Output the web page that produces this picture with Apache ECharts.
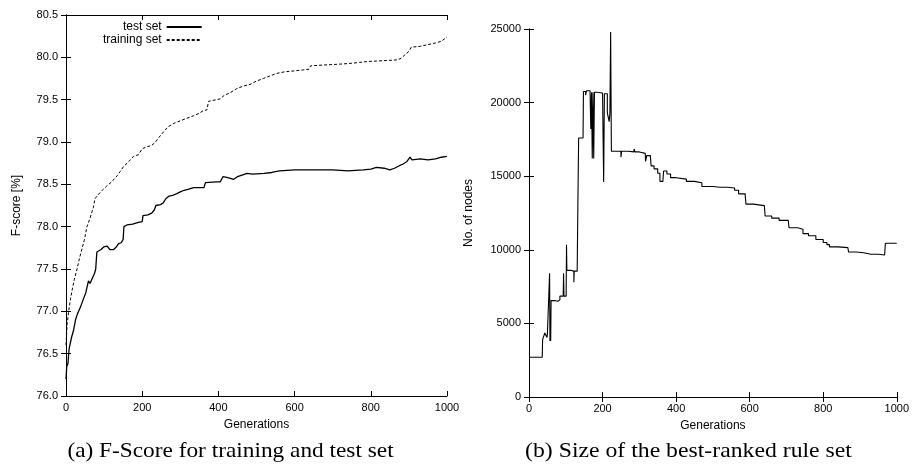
<!DOCTYPE html>
<html>
<head>
<meta charset="utf-8">
<script src="https://cdn.jsdelivr.net/npm/echarts@6/dist/echarts.min.js"></script>
<style>
html,body{margin:0;padding:0;background:#fff;}
#c{width:912px;height:470px;}
</style>
</head>
<body>
<div id="c"></div>
<script>
// ---------- data ----------
const xTicks = [0, 200, 400, 600, 800, 1000];

const testGen = [0,2,5,8,11,15,20,25,30,38,46,52,56,59,63,67,70,75,78,81,85,92,99,104,108,115,125,132,138,145,150,152,160,175,190,200,202,215,225,232,236,248,255,262,270,280,291,300,310,320,335,362,366,395,405,412,425,440,450,462,475,490,520,540,560,600,650,700,740,780,800,815,835,850,862,875,885,895,903,908,930,950,970,985,1000];
const testVal = [76.2,76.35,76.38,76.55,76.62,76.7,76.78,76.9,76.97,77.05,77.15,77.22,77.3,77.36,77.33,77.34,77.4,77.45,77.5,77.7,77.72,77.73,77.76,77.74,77.77,77.73,77.73,77.76,77.8,77.81,77.85,78.0,78.02,78.03,78.05,78.06,78.13,78.14,78.16,78.2,78.25,78.26,78.28,78.33,78.36,78.37,78.39,78.41,78.43,78.44,78.46,78.46,78.52,78.53,78.53,78.59,78.58,78.56,78.59,78.61,78.63,78.62,78.63,78.64,78.66,78.67,78.67,78.67,78.66,78.67,78.68,78.7,78.69,78.67,78.69,78.72,78.74,78.77,78.82,78.79,78.8,78.79,78.8,78.82,78.83];

const trainGen = [0,3,7,12,16,22,29,35,42,48,55,63,72,76,83,95,107,120,134,142,151,165,177,190,200,210,225,235,245,256,268,283,300,317,335,350,360,370,374,395,405,415,430,448,465,483,500,518,535,553,575,600,620,638,642,680,720,750,770,790,830,870,880,892,900,906,930,950,970,985,1000];
const trainVal = [76.6,76.85,77.0,77.15,77.25,77.38,77.5,77.62,77.74,77.84,78.0,78.1,78.23,78.33,78.37,78.43,78.48,78.53,78.6,78.65,78.71,78.77,78.83,78.85,78.92,78.94,78.96,79.0,79.06,79.12,79.18,79.22,79.25,79.28,79.31,79.34,79.37,79.38,79.48,79.5,79.51,79.55,79.58,79.63,79.66,79.68,79.72,79.75,79.78,79.81,79.83,79.84,79.85,79.86,79.9,79.91,79.92,79.93,79.94,79.95,79.96,79.97,79.99,80.04,80.07,80.12,80.13,80.15,80.17,80.19,80.24];

const nodeGen = [0,36,37,42,43,48,49,50,55,56,57,58,59,60,70,78,80,84,93,94,95,101,102,103,115,120,122,123,131,133,134,135,147,148,152,154,156,166,168,170,172,174,176,178,185,190,200,203,205,210,213,216,218,220,222,224,240,245,250,252,270,285,286,288,300,316,317,320,330,332,340,350,356,364,366,375,385,400,428,450,470,500,520,540,559,570,588,590,610,640,642,660,680,705,707,730,745,760,780,800,810,817,840,867,869,890,910,930,950,967,969,990,1000];
const nodeVal = [2700,2750,3900,3950,4350,4300,4050,4300,4200,8400,3800,4200,3800,6550,6500,6550,6600,6850,6850,8400,6850,6850,10350,8600,8600,8550,7800,8550,8550,13350,13350,17600,17550,20750,20750,20500,20800,20750,18200,20700,16200,20700,16200,20700,20700,20650,20650,14600,20600,20600,19300,19200,18700,19300,24800,16700,16650,16700,16300,16700,16650,16700,16850,16650,16550,16450,16000,16400,16400,15700,15500,15200,14650,14650,15350,15150,14900,14800,14650,14550,14300,14250,14250,14200,14050,13800,13650,13100,13000,12950,12300,12150,12000,11950,11500,11400,11100,10950,10700,10500,10350,10200,10150,10100,9850,9800,9700,9700,9650,9580,10450,10450,10420];

const yTicksA = [76.0, 76.5, 77.0, 77.5, 78.0, 78.5, 79.0, 79.5, 80.0, 80.5];
const yTicksB = [0, 5000, 10000, 15000, 20000, 25000];

// ---------- chart ----------
const pair = (xs, ys) => xs.map((x, i) => [x, ys[i]]);
const FONT = '"Liberation Sans", Arial, sans-serif';
const tickStyle = {show: true, inside: true, length: 5, lineStyle: {color: '#000', width: 1}};
const lineStyleAx = {show: true, lineStyle: {color: '#000', width: 1}};
const lbl = {color: '#000', fontSize: 11, fontFamily: FONT};

function xAx(grid, pos, show) {
  return {
    type: 'value', gridIndex: grid, position: pos, min: xTicks[0], max: xTicks[xTicks.length-1],
    interval: xTicks[1]-xTicks[0],
    axisLine: lineStyleAx, axisTick: tickStyle, splitLine: {show: false},
    axisLabel: show ? Object.assign({margin: 6, formatter: v => String(v)}, lbl) : {show: false},
    name: show ? 'Generations' : '', nameLocation: 'middle', nameGap: 23,
    nameTextStyle: {color: '#000', fontSize: 12, fontFamily: FONT}
  };
}
function yAx(grid, pos, ticks, show, name, gap, fmt) {
  return {
    type: 'value', gridIndex: grid, position: pos, min: ticks[0], max: ticks[ticks.length-1],
    interval: ticks[1]-ticks[0],
    axisLine: lineStyleAx, axisTick: tickStyle, splitLine: {show: false},
    axisLabel: show ? Object.assign({margin: 8, formatter: fmt}, lbl) : {show: false},
    name: show ? name : '', nameLocation: 'middle', nameGap: gap, nameRotate: 90,
    nameTextStyle: {color: '#000', fontSize: 12, fontFamily: FONT}
  };
}

const chart = echarts.init(document.getElementById('c'), null, {renderer: 'canvas'});
chart.setOption({
  animation: false,
  backgroundColor: '#fff',
  grid: [
    {left: 66, top: 15, width: 381, height: 381},
    {left: 529, top: 29, width: 369, height: 368}
  ],
  xAxis: [xAx(0, 'bottom', true), xAx(0, 'top', false), xAx(1, 'bottom', true), xAx(1, 'top', false)],
  yAxis: [
    yAx(0, 'left', yTicksA, true, 'F-score [%]', 43, v => v.toFixed(1)),
    yAx(0, 'right', yTicksA, false),
    yAx(1, 'left', yTicksB, true, 'No. of nodes', 54, v => String(v)),
    yAx(1, 'right', yTicksB, false)
  ],
  legend: {
    left: 98, top: 16, orient: 'vertical', align: 'right',
    itemWidth: 35, itemHeight: 10, itemGap: 1,
    itemStyle: {color: 'rgba(0,0,0,0)', borderWidth: 0, opacity: 0},
    textStyle: {color: '#000', fontSize: 12, fontFamily: FONT},
    data: ['test set', 'training set']
  },
  graphic: [
    {type: 'text', x: 230.5, y: 451, scaleX: 1.11,
     style: {text: '(a) F-Score for training and test set', font: '21px "Liberation Serif", "Times New Roman", serif', fill: '#000', align: 'center', verticalAlign: 'middle'}},
    {type: 'text', x: 688.5, y: 451, scaleX: 1.13,
     style: {text: '(b) Size of the best-ranked rule set', font: '21px "Liberation Serif", "Times New Roman", serif', fill: '#000', align: 'center', verticalAlign: 'middle'}}
  ],
  series: [
    {name: 'test set', type: 'line', xAxisIndex: 0, yAxisIndex: 0, data: pair(testGen, testVal),
     symbol: 'none', showSymbol: false, lineStyle: {color: '#000', width: 1.3, type: 'solid'}, itemStyle: {color: '#000'}},
    {name: 'training set', type: 'line', xAxisIndex: 0, yAxisIndex: 0, data: pair(trainGen, trainVal),
     symbol: 'none', showSymbol: false, lineStyle: {color: '#000', width: 1, type: [3, 2]}, itemStyle: {color: '#000'}},
    {name: 'nodes', type: 'line', xAxisIndex: 2, yAxisIndex: 2, data: pair(nodeGen, nodeVal), step: 'end',
     symbol: 'none', showSymbol: false, lineStyle: {color: '#000', width: 1.1}, itemStyle: {color: '#000'}}
  ]
});
</script>
</body>
</html>
